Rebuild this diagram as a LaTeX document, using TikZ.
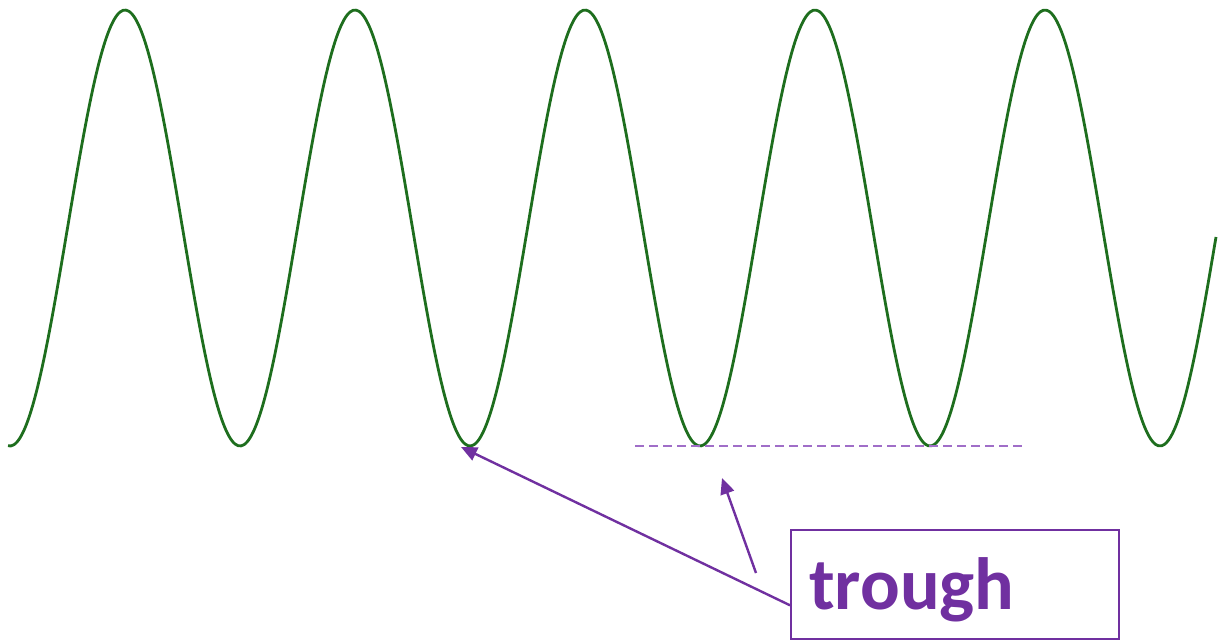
\documentclass[tikz,border=0pt]{standalone}
\usepackage{fontspec}
\setmainfont{Carlito}
\usetikzlibrary{arrows.meta}
\definecolor{wavegreen}{RGB}{30,110,30}
\definecolor{lblpurple}{RGB}{112,48,160}
\definecolor{dashpurple}{RGB}{160,110,200}
\tikzset{
  wave/.style={draw=wavegreen, line width=2.8pt, line join=round},
  pointer/.style={draw=lblpurple, line width=2.4pt, -{Triangle[length=16pt,width=14pt]}},
  levelline/.style={draw=dashpurple, line width=1.4pt, dash pattern=on 9pt off 5pt},
  lblbox/.style={draw=lblpurple, line width=1.6pt, minimum width=328pt, minimum height=109pt, inner sep=0pt},
  lbltext/.style={text=lblpurple, font=\fontsize{74}{80}\selectfont\bfseries, inner sep=0pt}
}
\begin{document}
\begin{tikzpicture}[x=1pt,y=-1pt]
\useasboundingbox (0,0) rectangle (1225,640);
% wave
\draw[wave] plot[domain=8:1216, samples=400, smooth] (\x,{228+218*cos(1.565217*(\x-10))});
% level line
\coordinate (d1) at (635,446);
\coordinate (d2) at (1026,446);
\draw[levelline] (d1) -- (d2);
% label box
\node[lblbox, anchor=north west] (box) at (790,529) {};
\node[lbltext, anchor=base west] (lbl) at (809,609) {trough};
% arrows
\coordinate (t1) at (461,447);
\coordinate (t2) at (722,478);
\coordinate (s1) at ([yshift=-21pt]box.west);
\coordinate (s2) at (756,573);
\draw[pointer] (s1) -- (t1);
\draw[pointer] (s2) -- (t2);
\end{tikzpicture}
\end{document}
